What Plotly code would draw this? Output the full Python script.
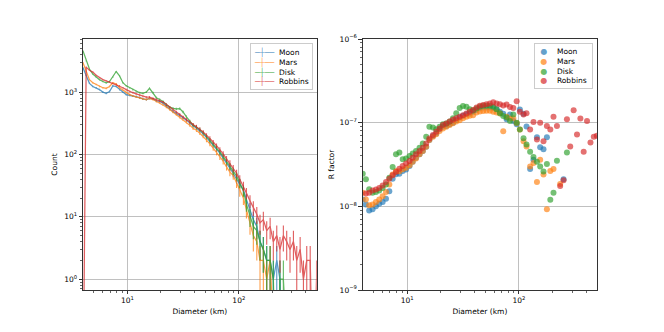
import numpy as np
import plotly.graph_objects as go

# ---------------- data ----------------
diameter_km = [4.0, 4.27, 4.57, 4.90, 5.25, 5.62, 6.03, 6.46, 6.92, 7.41,
               7.94, 8.51, 9.12, 9.77, 10.5, 11.2, 12.0, 12.9, 13.8, 14.8,
               15.8, 17.0, 18.2, 19.5, 20.9, 22.4, 24.0, 25.7, 27.5, 29.5,
               31.6, 33.9, 36.3, 38.9, 41.7, 44.7, 47.9, 51.3, 55.0, 58.9,
               63.1, 67.6, 72.4, 77.6, 83.2, 89.1, 95.5, 102, 110, 117,
               126, 135, 145, 155, 166, 178, 191, 204, 219, 234,
               251, 269, 288, 309, 331, 355, 380, 407, 437, 468,
               498]

count_moon = [2455, 1862, 1380, 1230, 1175, 1096, 1000, 955, 1023, 1259,
              1230, 1096, 1000, 912, 891, 871, 851, 813, 776, 759,
              794, 776, 724, 708, 661, 589, 537, 490, 457, 427,
              389, 355, 316, 288, 263, 240, 214, 186, 162, 141,
              120, 105, 87, 72, 62, 50, 40, 34, 27, 19,
              13, 9, 7, 4, 3, 2, 2, 1, 2, 1,
              0, 0, 0, 0, 0, 0, 0, 0, 0, 0,
              0]
count_mars = [2951, 2138, 1585, 1413, 1318, 1230, 1175, 1148, 1230, 1413,
              1349, 1175, 1072, 977, 912, 871, 832, 813, 776, 759,
              794, 759, 708, 676, 631, 575, 525, 479, 437, 398,
              363, 331, 295, 263, 245, 219, 195, 170, 148, 126,
              107, 91, 78, 63, 52, 46, 35, 26, 20, 13,
              8, 5, 4, 2, 2, 1, 2, 0, 0, 0,
              0, 0, 0, 0, 0, 0, 0, 0, 0, 0,
              0]
count_disk = [4571, 3162, 2344, 1950, 1738, 1585, 1479, 1413, 1479, 1738,
              2138, 1820, 1413, 1259, 1175, 1096, 1023, 977, 955, 1000,
              1148, 977, 813, 759, 708, 631, 575, 550, 540, 545,
              480, 400, 340, 295, 275, 251, 224, 195, 170, 148,
              129, 110, 93, 78, 65, 54, 45, 35, 26, 16,
              10, 7, 6, 4, 3, 2, 2, 1, 0, 1,
              1, 0, 0, 0, 0, 0, 0, 0, 0, 0,
              0]
count_robbins = [0, 2512, 2239, 2089, 1862, 1698, 1585, 1514, 1445, 1380,
                 1318, 1259, 1175, 1096, 1023, 977, 933, 891, 851, 832,
                 832, 794, 759, 724, 692, 631, 575, 525, 479, 437,
                 398, 363, 331, 302, 282, 257, 229, 204, 182, 158,
                 138, 120, 102, 85, 72, 60, 50, 40, 31, 24,
                 18, 14, 11, 8, 9, 6, 7, 4, 5, 3,
                 5, 4, 3, 4, 2, 3, 1, 2, 2, 0,
                 1]

r_moon = [1.21e-8, 1.05e-8, 0.89e-8, 0.92e-8, 1.00e-8, 1.07e-8, 1.13e-8, 1.23e-8, 1.51e-8, 2.14e-8,
          2.41e-8, 2.46e-8, 2.65e-8, 2.75e-8, 3.03e-8, 3.40e-8, 3.81e-8, 4.18e-8, 4.59e-8, 5.15e-8,
          6.19e-8, 6.94e-8, 7.43e-8, 8.34e-8, 8.94e-8, 9.15e-8, 9.57e-8, 10.0e-8, 10.7e-8, 11.5e-8,
          12.1e-8, 12.6e-8, 12.9e-8, 13.5e-8, 14.2e-8, 14.9e-8, 15.2e-8, 15.2e-8, 15.2e-8, 15.0e-8,
          14.5e-8, 13.5e-8, 12.8e-8, 11.0e-8, 12.5e-8, 10.5e-8, 9.6e-8, 14.4e-8, 12.8e-8, 9.0e-8,
          2.8e-8, 3.6e-8, 6.7e-8, 5.1e-8, 4.8e-8, 6.7e-8, None, None, None, None,
          2.1e-8, None, None, None, None, None, None, None, None, None,
          None]
r_mars = [1.45e-8, 1.21e-8, 1.03e-8, 1.05e-8, 1.13e-8, 1.21e-8, 1.32e-8, 1.48e-8, 1.82e-8, 2.40e-8,
          2.64e-8, 2.63e-8, 2.77e-8, 2.89e-8, 3.10e-8, 3.40e-8, 3.73e-8, 4.18e-8, 4.59e-8, 5.15e-8,
          6.19e-8, 6.79e-8, 7.26e-8, 7.96e-8, 8.54e-8, 8.93e-8, 9.36e-8, 9.82e-8, 10.3e-8, 10.7e-8,
          11.3e-8, 11.8e-8, 12.1e-8, 12.3e-8, 13.2e-8, 13.6e-8, 13.8e-8, 13.9e-8, 13.9e-8, 13.5e-8,
          13.2e-8, 12.9e-8, 7.9e-8, 11.8e-8, 11.2e-8, 11.3e-8, 9.9e-8, 8.3e-8, 6.0e-8, 5.2e-8,
          3.0e-8, 3.3e-8, 1.95e-8, 3.6e-8, 2.4e-8, 0.92e-8, 2.65e-8, 2.8e-8, None, 1.85e-8,
          None, None, None, None, None, None, None, None, None, None,
          None]
r_disk = [2.45e-8, 2.10e-8, 1.60e-8, 1.45e-8, 1.48e-8, 1.55e-8, 1.66e-8, 1.82e-8, 2.19e-8, 2.95e-8,
          4.19e-8, 4.40e-8, 3.65e-8, 3.73e-8, 4.00e-8, 4.27e-8, 4.58e-8, 5.02e-8, 5.64e-8, 6.78e-8,
          8.94e-8, 8.73e-8, 8.34e-8, 8.94e-8, 9.58e-8, 9.80e-8, 10.3e-8, 11.3e-8, 13.0e-8, 15.0e-8,
          15.8e-8, 15.5e-8, 14.5e-8, 14.0e-8, 14.8e-8, 15.5e-8, 15.9e-8, 15.9e-8, 15.9e-8, 15.5e-8,
          14.5e-8, 13.0e-8, 12.0e-8, 11.5e-8, 10.5e-8, 12.5e-8, 10.0e-8, 8.3e-8, 6.5e-8, 5.5e-8,
          4.5e-8, 3.9e-8, 3.4e-8, 3.0e-8, 2.6e-8, 3.2e-8, 1.2e-8, 1.45e-8, 3.5e-8, None,
          None, 4.4e-8, None, None, None, None, None, None, None, None,
          None]
r_robbins = [None, 1.42e-8, 1.45e-8, 1.55e-8, 1.59e-8, 1.66e-8, 1.78e-8, 1.95e-8, 2.14e-8, 2.35e-8,
             2.58e-8, 2.82e-8, 3.03e-8, 3.24e-8, 3.48e-8, 3.81e-8, 4.18e-8, 4.58e-8, 5.03e-8, 5.64e-8,
             6.48e-8, 7.10e-8, 7.79e-8, 8.53e-8, 9.36e-8, 9.80e-8, 10.3e-8, 10.8e-8, 11.3e-8, 11.8e-8,
             12.3e-8, 12.9e-8, 13.5e-8, 14.2e-8, 15.2e-8, 15.9e-8, 16.3e-8, 16.6e-8, 17.0e-8, 17.5e-8,
             17.0e-8, 16.6e-8, 16.0e-8, 16.5e-8, 15.4e-8, 15.0e-8, 18.0e-8, 13.5e-8, 12.5e-8, 13.0e-8,
             8.3e-8, 10.2e-8, 6.3e-8, 10.0e-8, 6.0e-8, 9.1e-8, 8.3e-8, 11.8e-8, 9.1e-8, 1.75e-8,
             2.05e-8, 11.0e-8, 5.2e-8, 14.1e-8, 7.2e-8, 11.2e-8, 4.5e-8, 10.5e-8, 5.8e-8, 6.8e-8,
             7.0e-8]

series_names = ["Moon", "Mars", "Disk", "Robbins"]
series_colors = ["#1f77b4", "#ff7f0e", "#2ca02c", "#d62728"]
series_rgb = ["31,119,180", "255,127,14", "44,160,44", "214,39,40"]
counts_all = [count_moon, count_mars, count_disk, count_robbins]
r_all = [r_moon, r_mars, r_disk, r_robbins]

x_ticks = [10, 100]
x_ticktext = ["10<sup>1</sup>", "10<sup>2</sup>"]
count_ticks = [1, 10, 100, 1000]
count_ticktext = ["10<sup>0</sup>", "10<sup>1</sup>", "10<sup>2</sup>", "10<sup>3</sup>"]
r_ticks = [1e-9, 1e-8, 1e-7, 1e-6]
r_ticktext = ["10<sup>\u22129</sup>", "10<sup>\u22128</sup>", "10<sup>\u22127</sup>", "10<sup>\u22126</sup>"]

# ---------------- figure ----------------
FONT = "DejaVu Sans"
FS = 7.5
FLOOR = 1e-2  # like matplotlib's 'clip' of non-positive values on a log axis

fig = go.Figure()

for name, col, counts in zip(series_names, series_colors, counts_all):
    c = np.array(counts, dtype=float)
    y = np.where(c > 0, c, FLOOR)
    err = np.sqrt(c)
    lower = np.where(c - err > 0, err, y - FLOOR)
    fig.add_trace(go.Scatter(
        x=diameter_km, y=y, mode="lines", name=name,
        line=dict(color=col, width=1.25), opacity=0.75,
        error_y=dict(type="data", symmetric=False, array=err, arrayminus=lower,
                     color=col, thickness=1.1, width=0),
        xaxis="x", yaxis="y", showlegend=False, hoverinfo="skip"))

for name, col, rv in zip(series_names, series_colors, r_all):
    fig.add_trace(go.Scatter(
        x=diameter_km, y=rv, mode="markers", name=name,
        marker=dict(color=col, size=6, opacity=0.66, line=dict(width=0)),
        xaxis="x2", yaxis="y2", showlegend=False, hoverinfo="skip"))


def minor_vals(lo, hi):
    out = []
    for k in range(-10, 5):
        for m in range(2, 10):
            v = m * 10.0 ** k
            if lo < v < hi:
                out.append(v)
    return out


def log_axis(rng, tickvals, ticktext, lo, hi, title, standoff, domain=None, anchor=None):
    d = dict(
        type="log", range=rng, tickmode="array", tickvals=tickvals, ticktext=ticktext,
        showline=True, linecolor="black", linewidth=0.8, mirror=True,
        ticks="outside", ticklen=3.5, tickwidth=0.8, tickcolor="black",
        showgrid=True, gridcolor="#b0b0b0", gridwidth=0.8, zeroline=False,
        tickfont=dict(family=FONT, size=FS, color="black"),
        title=dict(text=title, font=dict(family=FONT, size=FS, color="black"), standoff=standoff),
        minor=dict(tickmode="array", tickvals=minor_vals(lo, hi), ticks="outside",
                   ticklen=2, tickwidth=0.6, tickcolor="black", showgrid=False),
    )
    if domain is not None:
        d["domain"] = domain
    if anchor is not None:
        d["anchor"] = anchor
    return d


x_lo, x_hi = 4.0, 500.0
fig.update_layout(
    width=664, height=332,
    margin=dict(l=83, r=67, t=39, b=42),
    paper_bgcolor="white", plot_bgcolor="white",
    font=dict(family=FONT, size=FS, color="black"),
    xaxis=log_axis([np.log10(x_lo), np.log10(x_hi)], x_ticks, x_ticktext, x_lo, x_hi,
                   "Diameter (km)", 4, domain=[0, 0.4547], anchor="y"),
    yaxis=log_axis([np.log10(0.67), np.log10(7100)], count_ticks, count_ticktext, 0.67, 7100,
                   "Count", 5, anchor="x"),
    xaxis2=log_axis([np.log10(x_lo), np.log10(x_hi)], x_ticks, x_ticktext, x_lo, x_hi,
                    "Diameter (km)", 4, domain=[0.5442, 1], anchor="y2"),
    yaxis2=log_axis([-9, -6], r_ticks, r_ticktext, 1e-9, 1e-6,
                    "R factor", 3, anchor="x2"),
    showlegend=False,
)

# legends (matplotlib-style compact boxes)
NB = "\u00a0"
left_lines = []
right_lines = []
for name, rgb in zip(series_names, series_rgb):
    left_lines.append(
        f"<span style='color:rgba({rgb},0.75);font-size:8px'>\u2500\u253c\u2500\u2500</span>{NB}{NB}{name}")
    right_lines.append(
        f"{NB}<span style='color:rgba({rgb},0.7);font-size:8px'>\u25cf</span>{NB}{NB}{NB}{NB}{name}{NB}")

legend_common = dict(
    xref="paper", yref="paper", xanchor="right", yanchor="top", showarrow=False,
    align="left", font=dict(family=FONT, size=FS, color="black"),
    bgcolor="rgba(255,255,255,0.8)", bordercolor="#cccccc", borderwidth=1, borderpad=3,
)
fig.add_annotation(text="<br>".join(left_lines), x=0.448, y=0.983, **legend_common)
fig.add_annotation(text="<br>".join(right_lines), x=0.9928, y=0.983, **legend_common)

fig.write_html("out.html",
               config={"displayModeBar": False, "staticPlot": True},
               post_script="document.body.style.margin='0';document.body.style.padding='0';")
